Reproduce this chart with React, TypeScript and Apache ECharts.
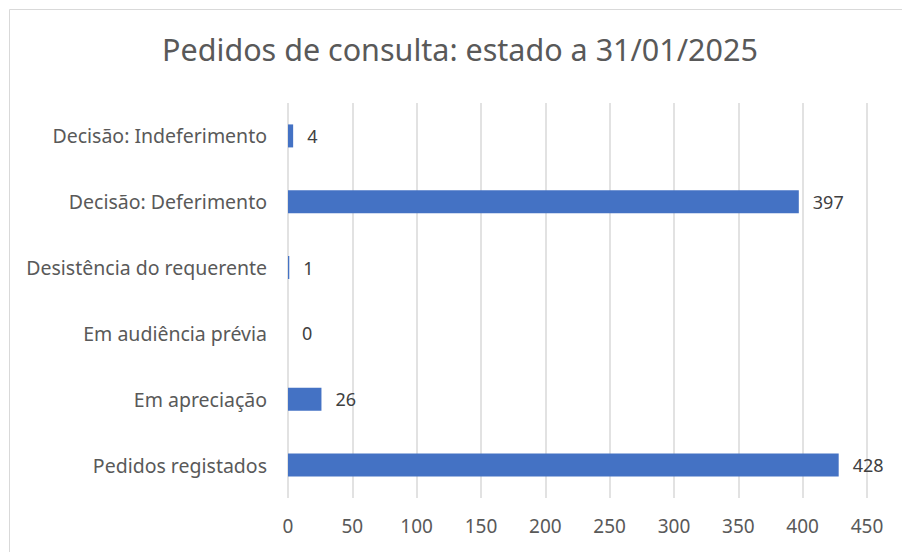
import React, { useEffect, useRef } from "react";
import * as echarts from "echarts";

const categories = [
  "Pedidos registados",
  "Em apreciação",
  "Em audiência prévia",
  "Desistência do requerente",
  "Decisão: Deferimento",
  "Decisão: Indeferimento",
];
const values = [428, 26, 0, 1, 397, 4];
const xMin = 0;
const xMax = 450;
const xInterval = 50;
const titleText = "Pedidos de consulta: estado a 31/01/2025";

const FONT = "'Noto Sans', sans-serif";
const TEXT = "#595959";

export default function App() {
  const ref = useRef<HTMLDivElement>(null);
  useEffect(() => {
    if (!ref.current) return;
    const chart = echarts.init(ref.current, undefined, { renderer: "svg" });
    chart.setOption({
      animation: false,
      backgroundColor: "#ffffff",
      title: {
        text: titleText,
        left: 455,
        textAlign: "center",
        top: 28,
        textStyle: { fontFamily: FONT, fontSize: 30.5, fontWeight: "normal", color: TEXT },
      },
      graphic: [
        {
          type: "rect",
          shape: { x: 9.5, y: 9.5, width: 910, height: 560 },
          style: { fill: "none", stroke: "#d9d9d9", lineWidth: 1 },
          silent: true,
        },
      ],
      grid: { left: 288, right: 35, top: 103, bottom: 54, containLabel: false },
      xAxis: {
        type: "value",
        min: xMin,
        max: xMax,
        interval: xInterval,
        axisLine: { show: false },
        axisTick: { show: false },
        splitLine: { show: true, lineStyle: { color: "#d9d9d9", width: 1.5 } },
        axisLabel: { fontFamily: FONT, fontSize: 19, color: TEXT, margin: 18 },
      },
      yAxis: {
        type: "category",
        data: categories,
        axisLine: { show: false },
        axisTick: { show: false },
        splitLine: { show: false },
        axisLabel: { fontFamily: FONT, fontSize: 19.5, color: TEXT, margin: 21 },
      },
      series: [
        {
          type: "bar",
          data: values,
          barWidth: 23,
          itemStyle: { color: "#4472C4" },
          label: {
            show: true,
            position: "right",
            distance: 14,
            fontFamily: FONT,
            fontSize: 18,
            color: "#404040",
          },
        },
      ],
    });
    return () => chart.dispose();
  }, []);
  return (
    <div
      ref={ref}
      style={{ position: "fixed", left: 0, top: 0, width: 902, height: 552 }}
    />
  );
}
